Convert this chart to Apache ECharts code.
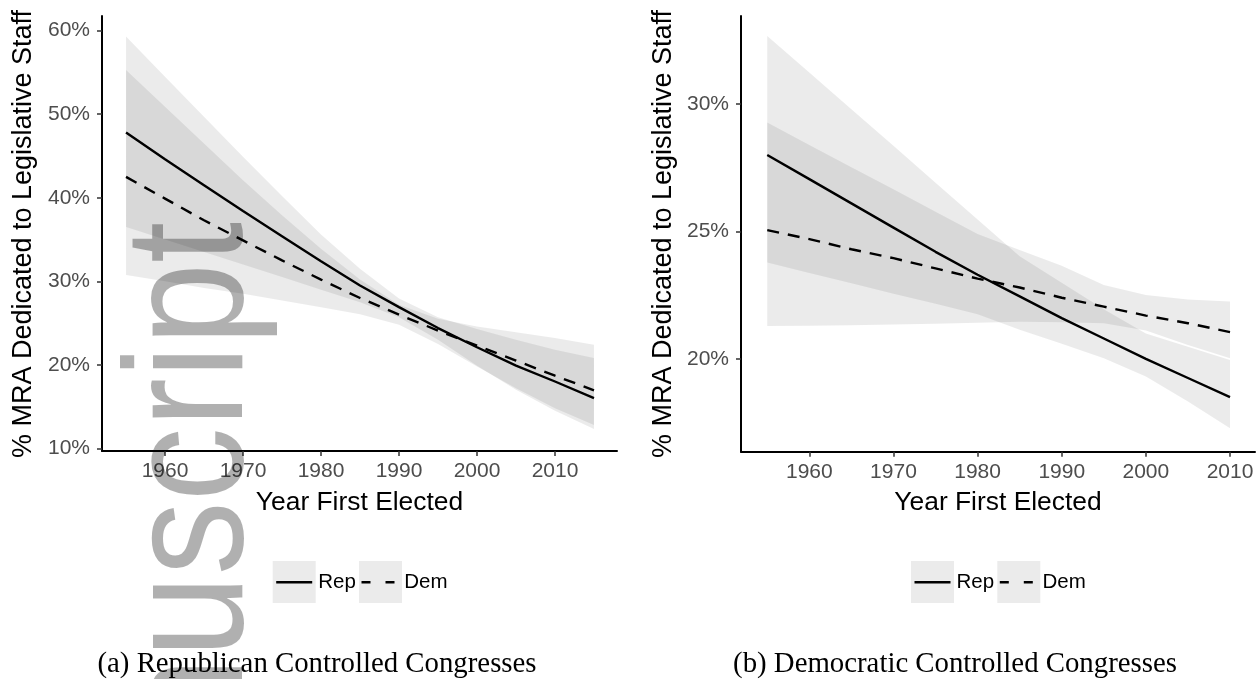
<!DOCTYPE html>
<html>
<head>
<meta charset="utf-8">
<script src="https://cdn.jsdelivr.net/npm/echarts@6/dist/echarts.min.js"></script>
<style>
  html, body { margin: 0; padding: 0; background: #ffffff; }
  #chart { width: 1260px; height: 679px; }
</style>
</head>
<body>
<div id="chart"></div>
<script>
// ---- tick labels ----
const yearTicks = [1960, 1970, 1980, 1990, 2000, 2010];
const pctTicksA = [10, 20, 30, 40, 50, 60];
const pctTicksB = [20, 25, 30];

// ---- (a) Republican controlled congresses: fitted share (%) by year first elected ----
const yearsA = [1955, 1960, 1965, 1970, 1975, 1980, 1985, 1990, 1995, 2000, 2005, 2010, 2015];
const repFitA = [47.8, 44.6, 41.5, 38.4, 35.4, 32.4, 29.5, 26.9, 24.4, 22.1, 19.9, 18.0, 16.0];
const repLoA  = [36.5, 35.0, 33.5, 32.0, 30.5, 29.0, 27.5, 25.7, 23.0, 19.9, 17.0, 14.5, 12.3];
const repHiA  = [59.3, 54.5, 49.7, 44.9, 40.2, 35.6, 31.5, 27.95, 25.7, 24.3, 23.0, 21.8, 20.8];
const demFitA = [42.5, 39.9, 37.3, 34.9, 32.5, 30.2, 28.0, 26.0, 24.1, 22.3, 20.5, 18.7, 16.95];
const demLoA  = [30.75, 30.0, 29.2, 28.5, 27.7, 26.9, 26.05, 24.8, 22.5, 19.8, 17.2, 14.8, 12.8];
const demHiA  = [55.3, 50.9, 46.5, 42.1, 37.9, 33.9, 30.2, 27.2, 25.5, 24.6, 23.9, 23.2, 22.4];

// ---- (b) Democratic controlled congresses ----
const yearsB = [1955, 1960, 1965, 1970, 1975, 1980, 1985, 1990, 1995, 2000, 2005, 2010];
const repFitB = [28.0, 27.05, 26.1, 25.15, 24.2, 23.3, 22.45, 21.6, 20.8, 20.0, 19.25, 18.5];
const repLoB  = [23.78, 23.37, 22.97, 22.56, 22.16, 21.75, 21.14, 20.59, 20.03, 19.31, 18.33, 17.28];
const repHiB  = [32.67, 31.23, 29.79, 28.36, 26.91, 25.47, 24.03, 22.99, 21.95, 21.0, 20.48, 19.96];
const demFitB = [25.05, 24.7, 24.3, 23.95, 23.55, 23.15, 22.8, 22.4, 22.05, 21.7, 21.4, 21.05];
const demLoB  = [21.29, 21.3, 21.32, 21.35, 21.38, 21.42, 21.46, 21.44, 21.4, 21.11, 20.55, 20.03];
const demHiB  = [29.27, 28.39, 27.52, 26.65, 25.77, 24.9, 24.27, 23.65, 22.9, 22.51, 22.33, 22.25];

const SANS = '"Liberation Sans", Arial, Helvetica, sans-serif';
const SERIF = '"Liberation Serif", "Times New Roman", Times, serif';
const BAND = 'rgba(0,0,0,0.078)';

function pairs(xs, ys) { return xs.map((x, i) => [x, ys[i]]); }

// confidence ribbon: one translucent polygon through the upper edge and back along the lower edge
function ribbon(idx, xs, lo, hi) {
  return {
    type: 'custom', xAxisIndex: idx, yAxisIndex: idx, silent: true, z: 1, animation: false,
    data: xs.map((x, i) => [x, lo[i], hi[i]]),
    encode: { x: 0, y: [1, 2] },
    renderItem: function (params, api) {
      if (params.dataIndex !== 0) return null;
      const upper = xs.map((x, i) => api.coord([x, hi[i]]));
      const lower = xs.map((x, i) => api.coord([x, lo[i]])).reverse();
      return {
        type: 'polygon',
        shape: { points: upper.concat(lower) },
        style: { fill: BAND, stroke: null }
      };
    }
  };
}

function fitLine(idx, xs, ys, dashed) {
  return {
    type: 'line', xAxisIndex: idx, yAxisIndex: idx, data: pairs(xs, ys),
    symbol: 'none', silent: true, z: 3, animation: false,
    lineStyle: { color: '#000', width: 2.4, type: dashed ? [12, 9] : 'solid', cap: 'butt' }
  };
}

function xAxisCfg(idx, min, max) {
  return {
    gridIndex: idx, type: 'value', min: min, max: max,
    axisLine: { show: true, onZero: false, lineStyle: { color: '#000', width: 2 } },
    axisTick: { show: true, length: 5, customValues: yearTicks, lineStyle: { color: '#333', width: 1.5 } },
    axisLabel: { customValues: yearTicks, color: '#4d4d4d', fontSize: 21, fontFamily: SANS, margin: 10,
                 formatter: v => String(v) },
    splitLine: { show: false }
  };
}

function yAxisCfg(idx, min, max, ticks) {
  return {
    gridIndex: idx, type: 'value', min: min, max: max,
    axisLine: { show: true, onZero: false, lineStyle: { color: '#000', width: 2 } },
    axisTick: { show: true, length: 5, customValues: ticks, lineStyle: { color: '#333', width: 1.5 } },
    axisLabel: { customValues: ticks, color: '#4d4d4d', fontSize: 21, fontFamily: SANS, margin: 12,
                 formatter: v => v + '%' },
    splitLine: { show: false }
  };
}

// plain text element; opts may carry rotation/scale/z and style overrides
function txt(x, y, text, size, opts) {
  opts = opts || {};
  const el = {
    type: 'text', x: x, y: y, silent: true,
    style: Object.assign({
      text: text, fontSize: size, fontFamily: SANS, fill: '#000',
      textAlign: 'center', textVerticalAlign: 'middle', align: 'center', verticalAlign: 'middle'
    }, opts.style || {})
  };
  ['rotation', 'scaleX', 'scaleY', 'z'].forEach(k => { if (opts[k] !== undefined) el[k] = opts[k]; });
  return el;
}

function legendGroup(x0, y0) {
  return [
    { type: 'rect', shape: { x: x0, y: y0, width: 43, height: 42 }, style: { fill: '#ebebeb' }, silent: true },
    { type: 'line', shape: { x1: x0 + 3.5, y1: y0 + 21.3, x2: x0 + 39.5, y2: y0 + 21.3 },
      style: { stroke: '#000', lineWidth: 2.6 }, silent: true },
    txt(x0 + 45.5, y0 + 21.5, 'Rep', 20.5, { style: { textAlign: 'left', align: 'left' } }),
    { type: 'rect', shape: { x: x0 + 86.3, y: y0, width: 43, height: 42 }, style: { fill: '#ebebeb' }, silent: true },
    { type: 'line', shape: { x1: x0 + 88.8, y1: y0 + 21.3, x2: x0 + 122.8, y2: y0 + 21.3 },
      style: { stroke: '#000', lineWidth: 2.6, lineDash: [9, 15] }, silent: true },
    txt(x0 + 131.5, y0 + 21.5, 'Dem', 20.5, { style: { textAlign: 'left', align: 'left' } })
  ];
}

const chart = echarts.init(document.getElementById('chart'), null, { renderer: 'canvas' });

const option = {
  backgroundColor: '#ffffff',
  animation: false,
  grid: [
    { left: 102, top: 16, width: 515, height: 435, containLabel: false },
    { left: 741, top: 16, width: 514, height: 435.7, containLabel: false }
  ],
  xAxis: [ xAxisCfg(0, 1951.92, 2017.95), xAxisCfg(1, 1951.88, 2012.97) ],
  yAxis: [ yAxisCfg(0, 9.68, 61.76, pctTicksA), yAxisCfg(1, 16.36, 33.45, pctTicksB) ],
  series: [
    ribbon(0, yearsA, repLoA, repHiA),
    ribbon(0, yearsA, demLoA, demHiA),
    fitLine(0, yearsA, repFitA, false),
    fitLine(0, yearsA, demFitA, true),
    ribbon(1, yearsB, repLoB, repHiB),
    ribbon(1, yearsB, demLoB, demHiB),
    fitLine(1, yearsB, repFitB, false),
    fitLine(1, yearsB, demFitB, true)
  ],
  graphic: { elements: [].concat(
    [
      txt(24, 234, '% MRA Dedicated to Legislative Staff', 27, { rotation: Math.PI / 2 }),
      txt(664, 234, '% MRA Dedicated to Legislative Staff', 27, { rotation: Math.PI / 2 }),
      txt(359.5, 503, 'Year First Elected', 26.4),
      txt(998, 503, 'Year First Elected', 26.4),
      txt(317, 664, '(a) Republican Controlled Congresses', 28.8, { style: { fontFamily: SERIF } }),
      txt(955, 664, '(b) Democratic Controlled Congresses', 28.8, { style: { fontFamily: SERIF } })
    ],
    legendGroup(272.7, 561),
    legendGroup(911, 561),
    [
      txt(196, 222, 'Author Manuscript', 168, {
        rotation: Math.PI / 2, scaleX: 0.88, z: 100,
        style: { fill: 'rgba(0,0,0,0.31)', textAlign: 'right', align: 'right' }
      })
    ]
  ) }
};

chart.setOption(option);
</script>
</body>
</html>
